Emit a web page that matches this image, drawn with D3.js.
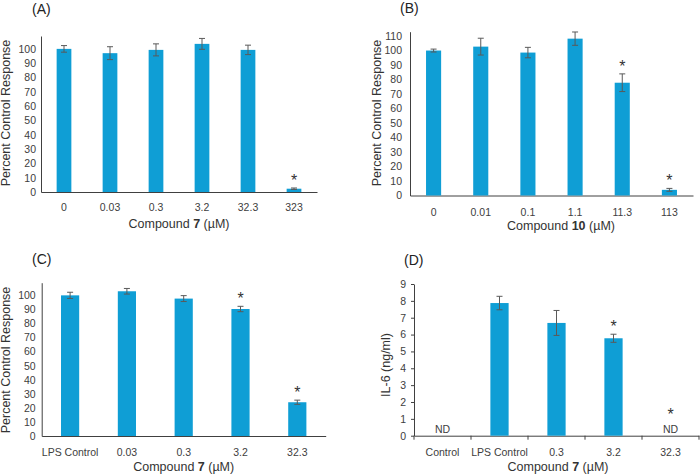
<!DOCTYPE html>
<html>
<head>
<meta charset="utf-8">
<script src="https://cdn.jsdelivr.net/npm/d3@7"></script>
<style>
  body { margin: 0; background: #fff; }
  svg { display: block; font-family: "Liberation Sans", Arial, sans-serif; }
</style>
</head>
<body>
<div id="chart"></div>
<script>
// datos
const catsA = ['0', '0.03', '0.3', '3.2', '32.3', '323'];
const valsA = [100, 97, 99.3, 103.5, 99.3, 2.3];
const errA  = [2.3, 4.5, 4.2, 3.8, 3.3, 0.5];
const sigA  = [0, 0, 0, 0, 0, 1];

const catsB = ['0', '0.01', '0.1', '1.1', '11.3', '113'];
const valsB = [100, 102.7, 98.6, 108.2, 77.8, 3.9];
const errB  = [1, 5.8, 3.6, 4.6, 6.1, 1];
const sigB  = [0, 0, 0, 0, 1, 1];

const catsC = ['LPS Control', '0.03', '0.3', '3.2', '32.3'];
const valsC = [100, 102.9, 97.7, 90.3, 24];
const errC  = [2.2, 2, 2.1, 1.9, 1.5];
const sigC  = [0, 0, 0, 1, 1];

// ND = no detectado
const catsD = ['Control', 'LPS Control', '0.3', '3.2', '32.3'];
const valsD = [null, 7.87, 6.69, 5.78, null];
const errD  = [0, 0.4, 0.74, 0.24, 0];
const sigD  = [0, 0, 0, 1, 1];

const ticksPct110 = d3.range(0, 111, 10);
const ticksPct100 = d3.range(0, 101, 10);
const ticksIL6 = d3.range(0, 10, 1);

const width = 700;
const height = 474;
const barColor = '#0f9ed5';
const errColor = '#5a5a5a';
const axisColor = '#404040';
const textColor = '#404040';

const svg = d3.select('#chart')
  .append('svg')
  .attr('width', width)
  .attr('height', height);

function drawPanel(p) {
  const g = svg.append('g').attr('class', 'panel');

  const x = d3.scaleBand()
    .domain(p.cats)
    .range([p.x0, p.x1])
    .padding(0);

  const y = d3.scaleLinear()
    .domain([0, p.ymax])
    .range([p.y0, p.ytop]);

  const bw = x.bandwidth() * 0.32;

  // eje y
  const yAxis = d3.axisLeft(y)
    .tickValues(p.yticks)
    .tickSize(p.ytick)
    .tickSizeOuter(0)
    .tickPadding(p.ypad);
  const gy = g.append('g')
    .attr('transform', `translate(${p.x0},0)`)
    .call(yAxis);
  gy.select('.domain').attr('stroke', axisColor);
  gy.selectAll('line').attr('stroke', axisColor);
  gy.selectAll('text')
    .attr('fill', textColor)
    .style('font-size', '10.5px');
  gy.attr('font-family', null);

  // eje x
  const xAxis = d3.axisBottom(x)
    .tickSize(0)
    .tickSizeOuter(0)
    .tickPadding(p.xpad);
  const gx = g.append('g')
    .attr('transform', `translate(0,${p.y0})`)
    .call(xAxis);
  gx.select('.domain').attr('stroke', axisColor);
  gx.selectAll('text')
    .attr('fill', textColor)
    .style('font-size', '10.5px');
  gx.attr('font-family', null);

  // marcas entre categorias (solo panel D)
  if (p.catTicks) {
    const edges = p.cats.map(c => x(c)).concat([p.x1]);
    g.selectAll('.catTick')
      .data(edges)
      .enter()
      .append('line')
      .attr('x1', d => d)
      .attr('x2', d => d)
      .attr('y1', p.y0)
      .attr('y2', p.y0 + 4)
      .attr('stroke', axisColor);
  }

  const rows = p.cats.map((c, i) => ({ c, v: p.vals[i], e: p.errs[i], s: p.sig[i] }));

  // barras
  g.selectAll('.bar')
    .data(rows.filter(d => d.v !== null))
    .enter()
    .append('rect')
    .attr('x', d => x(d.c) + (x.bandwidth() - bw) / 2)
    .attr('y', d => y(d.v))
    .attr('width', bw)
    .attr('height', d => y(0) - y(d.v))
    .attr('fill', barColor);

  // barras de error
  const withErr = rows.filter(d => d.v !== null);
  const cx = d => x(d.c) + x.bandwidth() / 2;
  g.selectAll('.errV')
    .data(withErr)
    .enter()
    .append('line')
    .attr('x1', cx).attr('x2', cx)
    .attr('y1', d => y(d.v - d.e))
    .attr('y2', d => y(d.v + d.e))
    .attr('stroke', errColor);
  ['top', 'bot'].forEach(k => {
    g.selectAll('.cap' + k)
      .data(withErr)
      .enter()
      .append('line')
      .attr('x1', d => cx(d) - 3)
      .attr('x2', d => cx(d) + 3)
      .attr('y1', d => y(k === 'top' ? d.v + d.e : d.v - d.e))
      .attr('y2', d => y(k === 'top' ? d.v + d.e : d.v - d.e))
      .attr('stroke', errColor);
  });

  // ND
  g.selectAll('.nd')
    .data(rows.filter(d => d.v === null))
    .enter()
    .append('text')
    .attr('x', cx)
    .attr('y', y(0) - 3)
    .attr('text-anchor', 'middle')
    .attr('fill', textColor)
    .style('font-size', '10.5px')
    .text('ND');

  // asteriscos
  g.selectAll('.star')
    .data(rows.filter(d => d.s))
    .enter()
    .append('text')
    .attr('x', cx)
    .attr('y', d => d.v === null ? y(0) - 16 : y(d.v + d.e) - 2)
    .attr('text-anchor', 'middle')
    .attr('fill', '#333')
    .style('font-size', '16px')
    .text('*');

  // titulo eje y
  g.append('text')
    .attr('transform', `translate(${p.ytx},${p.yty}) rotate(-90)`)
    .attr('text-anchor', 'middle')
    .attr('fill', '#333')
    .style('font-size', '12.5px')
    .text(p.ytitle);

  // titulo eje x
  const xt = g.append('text')
    .attr('x', p.xtx)
    .attr('y', p.xty)
    .attr('text-anchor', 'middle')
    .attr('fill', '#333')
    .style('font-size', '12.5px');
  xt.append('tspan').text('Compound ');
  xt.append('tspan').attr('font-weight', 'bold').text(p.compound);
  xt.append('tspan').text(' (\u00b5M)');

  // etiqueta del panel
  g.append('text')
    .attr('x', p.lx)
    .attr('y', p.ly)
    .attr('fill', '#222')
    .style('font-size', '14px')
    .text(p.label);
}

drawPanel({
  label: '(A)', lx: 32, ly: 14,
  cats: catsA, vals: valsA, errs: errA, sig: sigA,
  x0: 41, x1: 317, y0: 192, ytop: 36, ymax: 109,
  yticks: ticksPct100, ytick: 0, ypad: 5, xpad: 12,
  ytitle: 'Percent Control Response', ytx: 10, yty: 113,
  compound: '7', xtx: 179, xty: 228
});

drawPanel({
  label: '(B)', lx: 400, ly: 12.5,
  cats: catsB, vals: valsB, errs: errB, sig: sigB,
  x0: 410, x1: 693, y0: 195.5, ytop: 31.7, ymax: 113,
  yticks: ticksPct110, ytick: 0, ypad: 8, xpad: 13,
  ytitle: 'Percent Control Response', ytx: 381, yty: 113,
  compound: '10', xtx: 561, xty: 230
});

drawPanel({
  label: '(C)', lx: 32, ly: 264,
  cats: catsC, vals: valsC, errs: errC, sig: sigC,
  x0: 41.7, x1: 325.7, y0: 436, ytop: 282.7, ymax: 109,
  yticks: ticksPct100, ytick: 0, ypad: 6, xpad: 13,
  ytitle: 'Percent Control Response', ytx: 10, yty: 360,
  compound: '7', xtx: 183.7, xty: 471.3
});

drawPanel({
  label: '(D)', lx: 404, ly: 264.5,
  cats: catsD, vals: valsD, errs: errD, sig: sigD,
  x0: 414, x1: 699, y0: 435.7, ytop: 284, ymax: 9,
  yticks: ticksIL6, ytick: 3, ypad: 5, xpad: 13, catTicks: true,
  ytitle: 'IL-6 (ng/ml)', ytx: 390, yty: 365,
  compound: '7', xtx: 558, xty: 471
});
</script>
</body>
</html>
